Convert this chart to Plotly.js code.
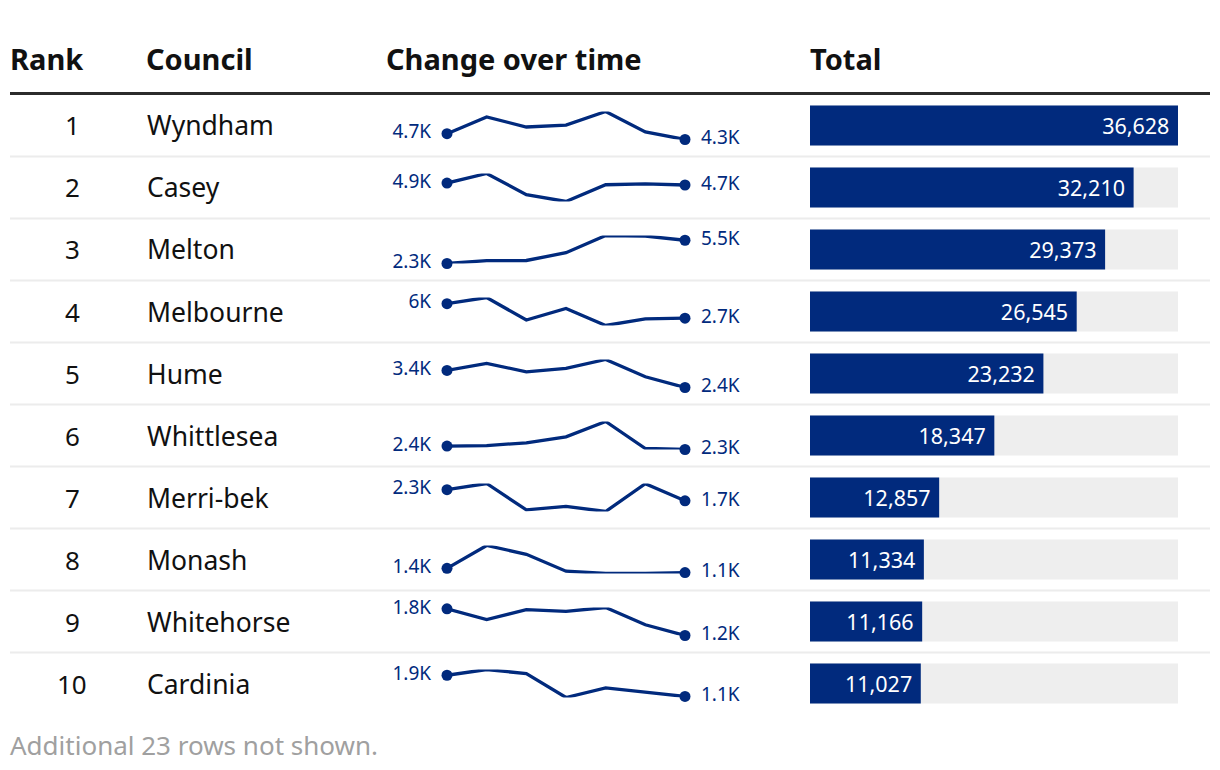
<!DOCTYPE html>
<html><head><meta charset="utf-8">
<script src="https://cdn.plot.ly/plotly-3.0.1.min.js"></script>
<style>body{margin:0;background:#fff}#chart{width:1220px;height:770px}</style>
</head><body><div id="chart"></div>
<script>
// ---- data ----
const ranks = [1, 2, 3, 4, 5, 6, 7, 8, 9, 10];
const councils = ["Wyndham", "Casey", "Melton", "Melbourne", "Hume", "Whittlesea", "Merri-bek", "Monash", "Whitehorse", "Cardinia"];
const totals = [36628, 32210, 29373, 26545, 23232, 18347, 12857, 11334, 11166, 11027];
const wyndham    = [4740, 5890, 5200, 5330, 6270, 4860, 4340];
const casey      = [4900, 5700, 3930, 3360, 4760, 4830, 4740];
const melton     = [2300, 2700, 2720, 3800, 6200, 6120, 5540];
const melbourne  = [5960, 7350, 2250, 4850, 1000, 2480, 2670];
const hume       = [3360, 3770, 3280, 3480, 4000, 2990, 2360];
const whittlesea = [2440, 2460, 2570, 2810, 3430, 2340, 2300];
const merribek   = [2280, 2610, 1200, 1380, 1110, 2600, 1680];
const monash     = [1410, 3100, 2450, 1200, 1030, 1030, 1100];
const whitehorse = [1780, 1530, 1760, 1720, 1810, 1410, 1160];
const cardinia   = [1930, 2150, 1990, 1080, 1450, 1300, 1120];
const periods = [0, 1, 2, 3, 4, 5, 6];
const headers = ["Rank", "Council", "Change over time", "Total"];
const footer = "Additional 23 rows not shown.";

// ---- layout helpers ----
const W = 1220, H = 770;
const PX = x => x / W;
const PY = y => 1 - y / H;
const NAVY = "#012a7d";
const FONT = "Noto Sans, Open Sans, sans-serif";
const rowTop = 94.5, rowH = 62, nRows = councils.length;
const sparks = [wyndham, casey, melton, melbourne, hume, whittlesea, merribek, monash, whitehorse, cardinia];
const fmtK = v => parseFloat((Math.round(v / 100) / 10).toFixed(1)) + "K";
const GAP = "\u00a0\u2009";
const maxTotal = Math.max(...totals);

const traces = [];
const layout = {
  width: W, height: H,
  margin: {l: 0, r: 0, t: 0, b: 0},
  paper_bgcolor: "#fff", plot_bgcolor: "rgba(0,0,0,0)",
  showlegend: false,
  font: {family: FONT, color: "#111"},
  barmode: "overlay",
  yaxis: {type: "category", categoryarray: councils, range: [nRows - 0.5, -0.5],
          domain: [PY(rowTop + rowH * nRows), PY(rowTop)], visible: false, fixedrange: true},
  xaxis2: {domain: [PX(810), PX(1178)], range: [0, maxTotal], visible: false, anchor: "y"},
  xaxis: {domain: [0, 1], range: [0, 1], visible: false, anchor: "y"},
  shapes: [], annotations: []
};

// track + bars
traces.push({type: "bar", orientation: "h", xaxis: "x2", yaxis: "y",
  y: councils, x: totals.map(() => maxTotal), width: 0.645,
  marker: {color: "#eeeeee"}, hoverinfo: "skip"});
traces.push({type: "bar", orientation: "h", xaxis: "x2", yaxis: "y",
  y: councils, x: totals, width: 0.645,
  marker: {color: NAVY},
  texttemplate: "%{x:,}\u00a0", textposition: "inside", insidetextanchor: "end",
  textfont: {color: "#fff", size: 21.5, family: FONT}, constraintext: "none"});

// sparklines
sparks.forEach((vals, i) => {
  const cy = rowTop + rowH * i + rowH / 2;
  const xa = "xaxis" + (3 + i), ya = "yaxis" + (2 + i);
  layout[xa] = {domain: [PX(447), PX(685)], range: [0, periods.length - 1], visible: false, anchor: "y" + (2 + i)};
  layout[ya] = {domain: [PY(cy + 14), PY(cy - 14)], range: [Math.min(...vals), Math.max(...vals)], visible: false, anchor: "x" + (3 + i)};
  const n = vals.length;
  traces.push({type: "scatter", mode: "lines", xaxis: "x" + (3 + i), yaxis: "y" + (2 + i),
    x: periods, y: vals, line: {color: NAVY, width: 3.3}, cliponaxis: false, hoverinfo: "skip"});
  traces.push({type: "scatter", mode: "markers+text", xaxis: "x" + (3 + i), yaxis: "y" + (2 + i),
    x: [periods[0], periods[n - 1]], y: [vals[0], vals[n - 1]],
    text: [fmtK(vals[0]) + GAP, GAP + fmtK(vals[n - 1])],
    textposition: ["middle left", "middle right"],
    textfont: {color: NAVY, size: 19, family: FONT},
    marker: {color: NAVY, size: 11}, cliponaxis: false, hoverinfo: "skip"});
});

// rank & council text
councils.forEach((c, i) => {
  layout.annotations.push({xref: "paper", yref: "y", x: PX(72), y: c, text: String(ranks[i]),
    showarrow: false, xanchor: "center", yanchor: "middle", font: {size: 26, color: "#111", family: FONT}});
  layout.annotations.push({xref: "paper", yref: "y", x: PX(145), y: c, text: c,
    showarrow: false, xanchor: "left", yanchor: "middle", font: {size: 26.5, color: "#111", family: FONT}});
});

// headers
const headerX = [8, 144, 384, 808];
headers.forEach((h, i) => {
  layout.annotations.push({xref: "paper", yref: "paper", x: PX(headerX[i]), y: PY(59), text: "<b>" + h + "</b>",
    showarrow: false, xanchor: "left", yanchor: "middle", font: {size: 29, color: "#111", family: FONT}});
});
layout.annotations.push({xref: "paper", yref: "paper", x: PX(8), y: PY(745), text: footer,
  showarrow: false, xanchor: "left", yanchor: "middle", font: {size: 26, color: "#a0a0a0", family: FONT}});

// lines
layout.shapes.push({type: "line", xref: "paper", yref: "paper", x0: PX(10), x1: PX(1210), y0: PY(93.5), y1: PY(93.5),
  line: {color: "#2b2b2b", width: 3}, layer: "below"});
for (let i = 1; i < nRows; i++) {
  const y = rowTop + rowH * i;
  layout.shapes.push({type: "line", xref: "paper", yref: "paper", x0: PX(10), x1: PX(1210), y0: PY(y), y1: PY(y),
    line: {color: "#ececec", width: 2}, layer: "below"});
}

Plotly.newPlot("chart", traces, layout, {staticPlot: true, displayModeBar: false});
</script></body></html>
